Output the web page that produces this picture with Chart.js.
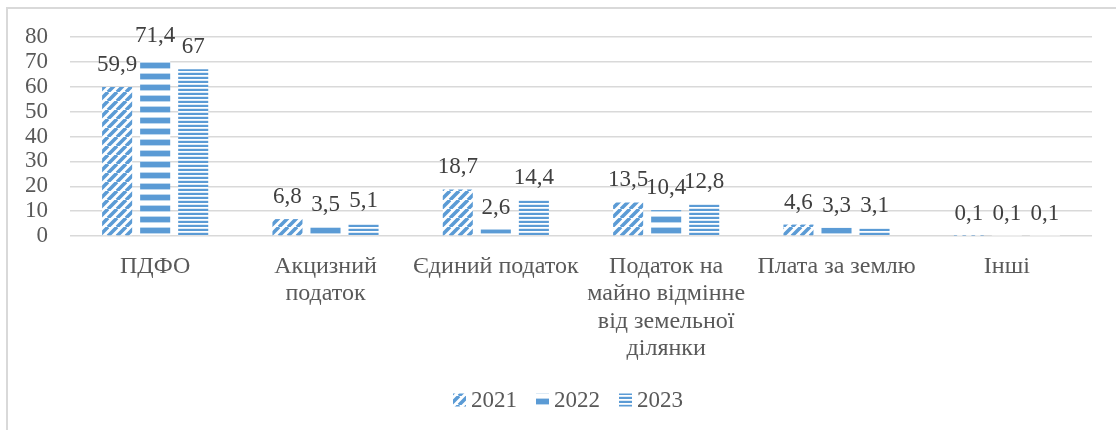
<!DOCTYPE html>
<html>
<head>
<meta charset="utf-8">
<script src="https://cdn.jsdelivr.net/npm/chart.js@4/dist/chart.umd.min.js"></script>
<style>
  html, body { margin: 0; padding: 0; background: #fff; }
  body { width: 1116px; height: 430px; position: relative; overflow: hidden; font-family: 'Liberation Serif', serif; }
  .frame { position: absolute; left: 6px; top: 7px; width: 1200px; height: 500px; border: 2px solid #d9d9d9; }
  #wrap { position: absolute; left: 0; top: 0; width: 1116px; height: 430px; }
  .preload { position: absolute; left: 20px; top: 410px; font-family: 'Liberation Serif', serif; font-size: 22px; color: transparent; }
</style>
</head>
<body>
<div class="preload">Податок на майно 0123456789,</div>
<div class="frame"></div>
<div id="wrap"><canvas id="grafico"></canvas></div>
<script>
// ---- дані ----
const categories = [
  'ПДФО',
  ['Акцизний', 'податок'],
  'Єдиний податок',
  ['Податок на', 'майно відмінне', 'від земельної', 'ділянки'],
  'Плата за землю',
  'Інші'
];
const years = ['2021', '2022', '2023'];
const values2021 = [59.9, 6.8, 18.7, 13.5, 4.6, 0.1];
const values2022 = [71.4, 3.5, 2.6, 10.4, 3.3, 0.1];
const values2023 = [67, 5.1, 14.4, 12.8, 3.1, 0.1];
const yTicks = [0, 10, 20, 30, 40, 50, 60, 70, 80];

const FONT = "'Liberation Serif', serif";
const BLUE = '#5b9bd5';

// ---- візерунки для стовпців ----
function makePattern(w, h, draw) {
  const c = document.createElement('canvas');
  c.width = w; c.height = h;
  const g = c.getContext('2d');
  g.fillStyle = '#fff';
  g.fillRect(0, 0, w, h);
  draw(g);
  return document.createElement('canvas').getContext('2d').createPattern(c, 'repeat');
}

// діагональні смуги "/"
const patDiag = makePattern(9, 9, g => {
  g.strokeStyle = BLUE;
  g.lineWidth = 3.6;
  g.beginPath();
  for (let k = -9; k <= 9; k += 9) {
    g.moveTo(k, 9);
    g.lineTo(k + 9, 0);
  }
  g.stroke();
});
// широкі горизонтальні смуги (рядок 0 = нижній край стовпця)
const patWide = makePattern(8, 11, g => {
  g.fillStyle = BLUE;
  g.fillRect(0, 3, 8, 5);
  g.fillStyle = '#bdd7ee';
  g.fillRect(0, 2, 8, 1);
  g.fillRect(0, 8, 8, 1);
});
// вузькі горизонтальні смуги
const patNarrow = makePattern(8, 4, g => {
  g.fillStyle = BLUE;
  g.fillRect(0, 1, 8, 2);
  g.fillStyle = '#deebf7';
  g.fillRect(0, 0, 8, 1);
});
const patterns = [patDiag, patWide, patNarrow];

// візерунки прив'язані до нульової лінії
const anchorPatterns = {
  id: 'anchorPatterns',
  beforeDatasetsDraw(chart) {
    const y0 = chart.scales.y.getPixelForValue(0);
    patterns.forEach(p => p.setTransform(new DOMMatrix([1, 0, 0, 1, 0, y0])));
  }
};

// ---- підписи значень над стовпцями ----
const valueLabels = {
  id: 'valueLabels',
  afterDatasetsDraw(chart) {
    const ctx = chart.ctx;
    ctx.save();
    ctx.font = '23px ' + FONT;
    ctx.fillStyle = '#404040';
    ctx.textAlign = 'center';
    ctx.textBaseline = 'alphabetic';
    chart.data.datasets.forEach((ds, i) => {
      chart.getDatasetMeta(i).data.forEach((bar, j) => {
        const txt = String(ds.data[j]).replace('.', ',');
        ctx.fillText(txt, bar.x, bar.y - 16);
      });
    });
    ctx.restore();
  }
};

// ---- легенда знизу (квадрат, відступ 5px, як у Excel) ----
const bottomLegend = {
  id: 'bottomLegend',
  afterDraw(chart) {
    const ctx = chart.ctx;
    const box = 13, gap = 5, space = 19, cx = 568, cy = 400;
    ctx.save();
    ctx.font = '23px ' + FONT;
    ctx.textBaseline = 'middle';
    const items = chart.data.datasets.map(ds => ({ ds, w: ctx.measureText(ds.label).width }));
    const total = items.reduce((s, it) => s + box + gap + it.w, 0) + space * (items.length - 1);
    let x = cx - total / 2;
    items.forEach(it => {
      const p = it.ds.backgroundColor;
      p.setTransform(new DOMMatrix([1, 0, 0, 1, 0, 0]));
      ctx.fillStyle = p;
      ctx.fillRect(x, cy - box / 2, box, box);
      ctx.fillStyle = '#595959';
      ctx.fillText(it.ds.label, x + box + gap, cy + 1);
      x += box + gap + it.w + space;
    });
    ctx.restore();
  }
};

function drawChart() {
  new Chart(document.getElementById('grafico'), {
    type: 'bar',
    data: {
      labels: categories,
      datasets: [
        { label: years[0], data: values2021, backgroundColor: patDiag },
        { label: years[1], data: values2022, backgroundColor: patWide },
        { label: years[2], data: values2023, backgroundColor: patNarrow }
      ]
    },
    options: {
      responsive: true,
      maintainAspectRatio: false,
      animation: false,
      categoryPercentage: 0.67,
      barPercentage: 0.79,
      layout: { padding: { left: 8, right: 24, top: 37, bottom: 50 } },
      plugins: {
        legend: { display: false },
        tooltip: { enabled: false }
      },
      scales: {
        x: {
          grid: { display: false, drawTicks: false },
          border: { display: false },
          ticks: {
            color: '#595959',
            font: { family: FONT, size: 24, lineHeight: 1.14 },
            padding: 17,
            maxRotation: 0,
            autoSkip: false
          },
          afterFit: s => { s.height = 144; }
        },
        y: {
          min: 0,
          max: 80,
          afterBuildTicks: s => { s.ticks = yTicks.map(v => ({ value: v })); },
          grid: { color: '#d9d9d9', lineWidth: 1.5, drawTicks: false },
          border: { display: false },
          ticks: {
            color: '#595959',
            font: { family: FONT, size: 23 },
            padding: 22,
            autoSkip: false
          },
          afterFit: s => { s.width = 62; }
        }
      }
    },
    plugins: [anchorPatterns, valueLabels, bottomLegend]
  });
}

window.addEventListener('load', () => {
  document.fonts.ready.then(() => setTimeout(drawChart, 30));
});
</script>
</body>
</html>
